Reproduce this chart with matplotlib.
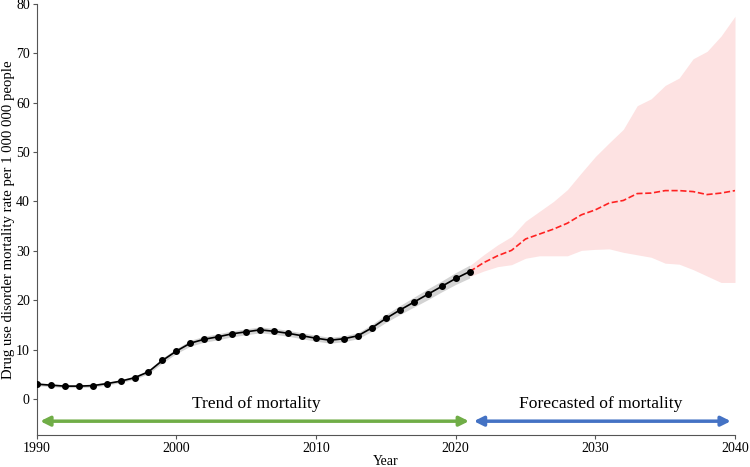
import numpy as np
import matplotlib.pyplot as plt

plt.rcParams['font.family'] = ['Liberation Serif', 'DejaVu Serif']

# observed rates 1990-2021
years = np.arange(1990, 2022)
rate = [3.0, 2.8, 2.6, 2.6, 2.7, 3.1, 3.6, 4.3, 5.5, 7.8, 9.7, 11.3, 12.1, 12.6,
        13.2, 13.6, 14.0, 13.7, 13.3, 12.8, 12.3, 11.9, 12.2, 12.8, 14.4, 16.3,
        18.0, 19.6, 21.2, 22.8, 24.4, 25.8]
rate_err = [0.3, 0.3, 0.3, 0.3, 0.3, 0.3, 0.3, 0.3, 0.4, 0.5, 0.5, 0.6, 0.6, 0.6,
            0.6, 0.6, 0.6, 0.6, 0.6, 0.6, 0.6, 0.6, 0.6, 0.6, 0.7, 0.8,
            0.9, 1.0, 1.1, 1.1, 1.2, 1.3]

# forecast 2021-2040
fyears = np.arange(2021, 2041)
fmean = [25.8, 27.6, 29.0, 30.1, 32.4, 33.4, 34.4, 35.6, 37.3, 38.3, 39.7, 40.2,
         41.6, 41.7, 42.2, 42.2, 42.0, 41.4, 41.7, 42.2]
fupper = [27.0, 29.2, 31.2, 32.9, 36.0, 38.0, 40.0, 42.4, 45.8, 49.1, 51.9, 54.6,
          59.4, 60.8, 63.5, 65.0, 68.9, 70.4, 73.5, 77.5]
flower = [24.8, 25.9, 26.8, 27.2, 28.5, 29.0, 29.0, 29.0, 30.1, 30.3, 30.4, 29.7,
          29.2, 28.7, 27.5, 27.3, 26.2, 24.9, 23.6, 23.6]

fig = plt.figure(figsize=(7.5, 4.67), dpi=100)
ax = fig.add_axes([0.049, 0.0685, 0.931, 0.923])

r = np.array(rate)
e = np.array(rate_err)
ax.fill_between(years, r - e, r + e, color='#c8c8c8', alpha=0.8, lw=0)
ax.plot(years, rate, color='black', lw=1.2, marker='o', ms=4, zorder=3)

ax.fill_between(fyears, flower, fupper, color='#fde2e2', lw=0)
ax.plot(fyears, fmean, color='red', ls='--', lw=1.2, alpha=0.85)

# period arrows
ax.annotate('', xy=(2020.95, -4.5), xytext=(1990.25, -4.5),
            arrowprops=dict(arrowstyle='<|-|>', color='#70ad47', lw=2.5,
                            mutation_scale=14, shrinkA=0, shrinkB=0))
ax.annotate('', xy=(2039.7, -4.5), xytext=(2021.3, -4.5),
            arrowprops=dict(arrowstyle='<|-|>', color='#4472c4', lw=2.5,
                            mutation_scale=14, shrinkA=0, shrinkB=0))
ax.text(2005.7, -1.1, 'Trend of mortality', ha='center', va='center', fontsize=12.6)
ax.text(2030.4, -1.1, 'Forecasted of mortality', ha='center', va='center', fontsize=12.6)

ax.set_xlim(1990, 2040)
ax.set_ylim(-7.3, 80)
ax.set_xticks([1990, 2000, 2010, 2020, 2030, 2040])
ax.set_yticks(range(0, 81, 10))
ax.tick_params(labelsize=10, length=3, pad=2, color='#555555')
ax.spines['top'].set_visible(False)
ax.spines['right'].set_visible(False)
ax.spines['left'].set_color('#555555')
ax.spines['bottom'].set_color('#555555')
ax.set_xlabel('Year', fontsize=10, labelpad=0)
ax.set_ylabel('Drug use disorder mortality rate per 1 000 000 people', fontsize=10.6)
ax.yaxis.set_label_coords(-0.031, 0.5)

fig.savefig('out.png', dpi=100)
